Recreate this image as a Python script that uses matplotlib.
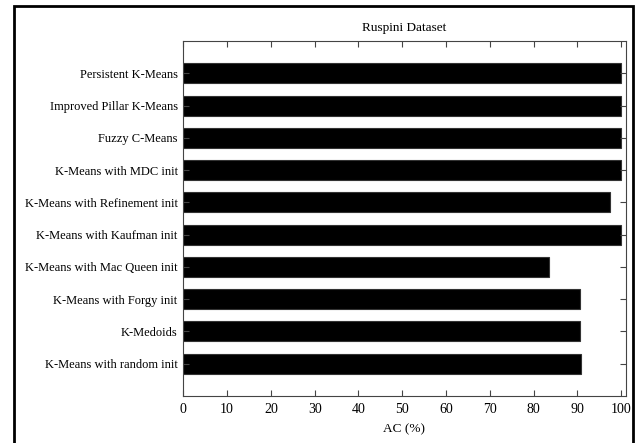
import matplotlib
matplotlib.use("Agg")
import matplotlib.pyplot as plt
from matplotlib.patches import Rectangle

methods = [
    "Persistent K-Means",
    "Improved Pillar K-Means",
    "Fuzzy C-Means",
    "K-Means with MDC init",
    "K-Means with Refinement init",
    "K-Means with Kaufman init",
    "K-Means with Mac Queen init",
    "K-Means with Forgy init",
    "K-Medoids",
    "K-Means with random init",
]
accuracy = [100, 100, 100, 100, 97.5, 100, 83.6, 90.6, 90.6, 90.9]
xticks = [0, 10, 20, 30, 40, 50, 60, 70, 80, 90, 100]

plt.rcParams["font.family"] = ["Liberation Serif", "DejaVu Serif"]
plt.rcParams["font.size"] = 9

fig = plt.figure(figsize=(6.4, 4.43), dpi=100)
ax = fig.add_axes([0.2864, 0.1061, 0.6912, 0.8014])

pos = list(range(len(methods), 0, -1))
ax.barh(pos, accuracy, height=0.62, color="black", edgecolor="#333333", linewidth=0.8)

ax.set_xlim(0, 101)
ax.set_ylim(0, 11)
ax.set_xticks(xticks)
ax.set_yticks(pos)
ax.set_yticklabels(methods)
ax.tick_params(direction="in", length=4, width=0.8, color="#444444",
               top=True, right=True, pad=4)
ax.tick_params(axis="x", pad=5, labelsize=10)
for s in ax.spines.values():
    s.set_color("#444444")
    s.set_linewidth(0.8)

ax.set_title("Ruspini Dataset", fontsize=9.5, pad=7)
ax.set_xlabel("AC (%)", fontsize=9.5, labelpad=5)

# outer frame around the figure
fig.patches.append(Rectangle((14 / 640, -0.05), 619 / 640, 1.05 - 6 / 443,
                             transform=fig.transFigure, fill=False,
                             edgecolor="black", linewidth=2))

fig.savefig("out.png", dpi=100)
